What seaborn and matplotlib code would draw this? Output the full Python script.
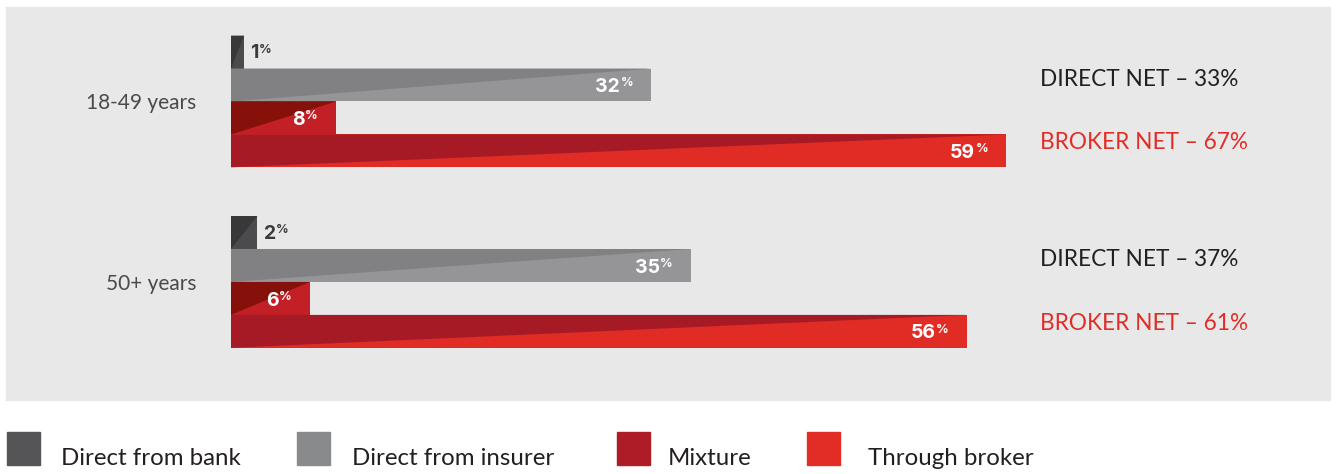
import matplotlib
matplotlib.use('Agg')
import matplotlib.pyplot as plt
from matplotlib.patches import Polygon, Rectangle
import seaborn as sns
import pandas as pd

# данные с картинки
groups = ['18-49 years', '50+ years']
channels = ['Direct from bank', 'Direct from insurer', 'Mixture', 'Through broker']
young = [1, 32, 8, 59]
older = [2, 35, 6, 56]
direct_net = [33, 37]
broker_net = [67, 61]

light = ['#4b4b4d', '#959598', '#c21f26', '#e12b25']
dark = ['#38383a', '#818183', '#86100a', '#a51a24']
legend_cols = ['#555557', '#888a8c', '#ad1c27', '#e12d26']

df = pd.DataFrame({
    'group': [g for g in groups for _ in channels],
    'channel': channels * 2,
    'value': young + older,
})

sns.set_style('white')
plt.rcParams['font.family'] = ['Lato', 'DejaVu Sans']

W, H = 1337, 474
fig = plt.figure(figsize=(W / 100, H / 100), dpi=100)

# серый фон-подложка
fig.patches.append(Rectangle((6 / W, 1 - 400 / H), 1324 / W, 393 / H,
                             transform=fig.transFigure, color='#e8e8e8', zorder=-10))

ax = fig.add_axes([231 / W, 1 - 398 / H, 1096 / W, 391 / H])
ax.set_facecolor('none')

sns.barplot(data=df, y='group', x='value', hue='channel', hue_order=channels,
            palette=light, width=0.73, gap=0, dodge=True, orient='h',
            saturation=1, legend=False, linewidth=0, ax=ax)

ax.set_xlim(0, 1096 / 13.14)
ax.set_ylim(1.643, -0.5235)

# тёмный треугольник на каждом столбике
bars = list(ax.patches)
for p in bars:
    x0, y0, w, h = p.get_x(), p.get_y(), p.get_width(), p.get_height()
    ci = channels.index(df.loc[(df['value'] == round(w)), 'channel'].iloc[0])
    ax.add_patch(Polygon([(x0, y0), (x0 + w, y0), (x0, y0 + h)], closed=True,
                         color=dark[ci], lw=0, zorder=p.get_zorder() + 0.1))

    yc = y0 + h / 2
    if w < 5:
        num = ax.annotate(f'{round(w)}', xy=(w, yc), xytext=(4.5, -1), textcoords='offset points',
                          ha='left', va='center', fontsize=14, fontweight='bold',
                          color='#3a3a3c', family=['Inter', 'DejaVu Sans'])
        col = '#3a3a3c'
    else:
        num = ax.annotate(f'{round(w)}', xy=(w, yc), xytext=(-22.5, -1.5), textcoords='offset points',
                          ha='right', va='center', fontsize=14, fontweight='bold',
                          color='white', family=['Inter', 'DejaVu Sans'], zorder=5)
        col = 'white'
    ax.annotate('%', xy=(1.0, 1.0), xycoords=num, xytext=(0.3, 0.5), textcoords='offset points',
                ha='left', va='top', fontsize=9, fontweight='bold', color=col,
                family=['Inter', 'DejaVu Sans'], zorder=5)

# подписи DIRECT NET / BROKER NET
centers = {}
for p in bars:
    centers.setdefault(round(p.get_width()), p.get_y() + p.get_height() / 2)
for i in range(len(groups)):
    vals = young if i == 0 else older
    ax.text((1040 - 231) / 13.14, centers[vals[1]] + 0.005, f'DIRECT NET – {direct_net[i]}%',
            fontsize=16.3, color='#231f20', va='baseline', ha='left')
    ax.text((1040 - 231) / 13.14, centers[vals[3]] - 0.01, f'BROKER NET – {broker_net[i]}%',
            fontsize=16.3, color='#e12d26', va='baseline', ha='left')

ax.set_xlabel('')
ax.set_ylabel('')
ax.set_xticks([])
ax.tick_params(axis='y', length=0, pad=25, labelsize=15, labelcolor='#4a4a4a')
sns.despine(ax=ax, left=True, bottom=True)

# легенда внизу
leg_sq = [7, 297, 617, 807]
leg_tx = [61, 352, 668, 868]
for i, name in enumerate(channels):
    fig.patches.append(Rectangle((leg_sq[i] / W, 1 - 465 / H), 33 / W, 33 / H,
                                 transform=fig.transFigure, color=legend_cols[i]))
    fig.text(leg_tx[i] / W, 1 - 465 / H, name, fontsize=17.3, color='#231f20',
             ha='left', va='baseline')

fig.savefig('out.png', dpi=100)
